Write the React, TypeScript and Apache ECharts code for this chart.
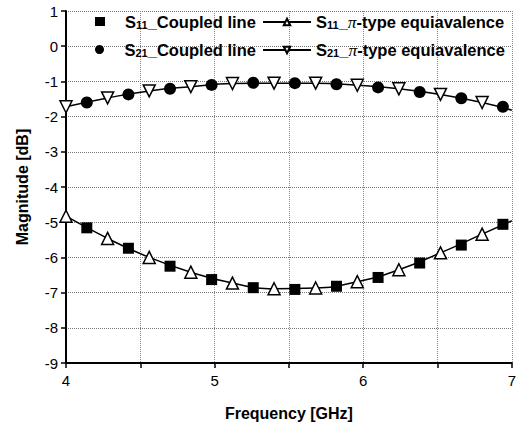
import React, { useEffect, useRef } from "react";
import * as echarts from "echarts";

const freqCoupled = [4.14, 4.42, 4.7, 4.98, 5.26, 5.54, 5.82, 6.1, 6.38, 6.66, 6.94];
const freqPi = [4.0, 4.28, 4.56, 4.84, 5.12, 5.4, 5.68, 5.96, 6.24, 6.52, 6.8, 7.0];
const s11Coupled = [-5.16, -5.74, -6.25, -6.63, -6.86, -6.91, -6.82, -6.57, -6.16, -5.65, -5.06];
const s11Pi = [-4.83, -5.46, -6.0, -6.42, -6.73, -6.89, -6.87, -6.69, -6.35, -5.87, -5.34, -4.96];
const s21Coupled = [-1.6, -1.37, -1.21, -1.1, -1.04, -1.05, -1.08, -1.17, -1.3, -1.48, -1.72];
const s21Pi = [-1.72, -1.47, -1.27, -1.15, -1.06, -1.05, -1.05, -1.11, -1.21, -1.37, -1.6, -1.82];
const xTickLabels = ["4", "5", "6", "7"];

const FONT = "'Liberation Sans', Arial, sans-serif";

const names = {
  s11c: "S11_Coupled line",
  s11p: "S11_π-type equiavalence",
  s21c: "S21_Coupled line",
  s21p: "S21_π-type equiavalence",
};

function legendFmt(name: string) {
  const sub = name.slice(1, 3);
  const rest = name.slice(3);
  if (rest.indexOf("π") >= 0) {
    const after = rest.slice(rest.indexOf("π") + 1);
    return `{s|S}{sub|${sub}}{t|_}{pi|π}{t|${after}}`;
  }
  return `{g|}{s|S}{sub|${sub}}{t|${rest}}`;
}

const FS = 16.5;
const rich = {
  g: { width: 15 },
  s: { fontSize: FS, fontWeight: "bold", fontFamily: FONT, color: "#000", lineHeight: 20 },
  sub: { fontSize: 11, fontWeight: "bold", fontFamily: FONT, color: "#000", lineHeight: 20, padding: [6, 0, 0, 0] },
  t: { fontSize: FS, fontWeight: "bold", fontFamily: FONT, color: "#000", lineHeight: 20 },
  pi: { fontSize: FS + 1, fontStyle: "italic", fontFamily: "'Liberation Serif', serif", color: "#000", lineHeight: 20 },
};

function piData(freq: number[], vals: number[]) {
  return freq.map((f, i) =>
    i === freq.length - 1 ? { value: [f, vals[i]], symbol: "none" } : { value: [f, vals[i]] }
  );
}

export default function App() {
  const ref = useRef<HTMLDivElement>(null);
  useEffect(() => {
    if (!ref.current) return;
    const chart = echarts.init(ref.current, undefined, { renderer: "svg" });
    const legendBase = {
      orient: "horizontal",
      formatter: legendFmt,
      textStyle: { rich },
      itemGap: 0,
      padding: 0,
    };
    chart.setOption({
      animation: false,
      backgroundColor: "#fff",
      grid: { left: 66, right: 3, top: 11, bottom: 68 },
      legend: [
        { ...legendBase, data: [names.s11c], left: 95, top: 13, itemWidth: 10, itemHeight: 9 },
        { ...legendBase, data: [names.s11p], left: 262, top: 13, itemWidth: 48, itemHeight: 8 },
        { ...legendBase, data: [names.s21c], left: 95, top: 41, itemWidth: 10, itemHeight: 9 },
        { ...legendBase, data: [names.s21p], left: 262, top: 41, itemWidth: 48, itemHeight: 8 },
      ],
      xAxis: {
        type: "value",
        min: 4,
        max: 7,
        interval: 0.5,
        name: "Frequency [GHz]",
        nameLocation: "middle",
        nameGap: 42,
        nameTextStyle: { fontSize: 16, fontWeight: "bold", fontFamily: FONT, color: "#000" },
        axisLine: { show: true, onZero: false, lineStyle: { color: "#000", width: 2 } },
        axisTick: { show: true, length: 5, lineStyle: { color: "#000", width: 1.5 } },
        axisLabel: {
          fontSize: 15,
          fontFamily: FONT,
          color: "#000",
          margin: 10,
          formatter: (v: number) => {
            const s = String(Math.round(v * 10) / 10);
            return xTickLabels.indexOf(s) >= 0 ? s : "";
          },
        },
        splitLine: { show: true, lineStyle: { color: "#888", type: "dotted", width: 1 } },
      },
      yAxis: {
        type: "value",
        min: -9,
        max: 1,
        interval: 1,
        name: "Magnitude [dB]",
        nameLocation: "middle",
        nameGap: 36,
        nameTextStyle: { fontSize: 16, fontWeight: "bold", fontFamily: FONT, color: "#000" },
        axisLine: { show: true, onZero: false, lineStyle: { color: "#000", width: 2 } },
        axisTick: { show: true, length: 5, lineStyle: { color: "#000", width: 1.5 } },
        axisLabel: { fontSize: 15, fontFamily: FONT, color: "#000", margin: 8 },
        splitLine: { show: true, lineStyle: { color: "#777", type: "dotted", width: 1 } },
      },
      series: [
        {
          name: names.s11p,
          type: "line",
          smooth: true,
          data: piData(freqPi, s11Pi),
          symbol: "triangle",
          symbolSize: 12,
          showAllSymbol: true,
          lineStyle: { color: "#000", width: 1.5 },
          itemStyle: { color: "#fff", borderColor: "#000", borderWidth: 1.5, opacity: 1 },
          z: 2,
        },
        {
          name: names.s21p,
          type: "line",
          smooth: true,
          data: piData(freqPi, s21Pi),
          symbol: "triangle",
          symbolRotate: 180,
          symbolSize: 12,
          showAllSymbol: true,
          lineStyle: { color: "#000", width: 1.5 },
          itemStyle: { color: "#fff", borderColor: "#000", borderWidth: 1.5, opacity: 1 },
          z: 2,
        },
        {
          name: names.s11c,
          type: "scatter",
          data: freqCoupled.map((f, i) => [f, s11Coupled[i]]),
          symbol: "rect",
          symbolSize: 11,
          itemStyle: { color: "#000", opacity: 1 },
          z: 3,
        },
        {
          name: names.s21c,
          type: "scatter",
          data: freqCoupled.map((f, i) => [f, s21Coupled[i]]),
          symbol: "circle",
          symbolSize: 12,
          itemStyle: { color: "#000", opacity: 1 },
          z: 3,
        },
      ],
    });
    return () => chart.dispose();
  }, []);
  return (
    <div
      ref={ref}
      style={{ position: "fixed", left: 0, top: 0, width: 519, height: 431, background: "#fff" }}
    />
  );
}
